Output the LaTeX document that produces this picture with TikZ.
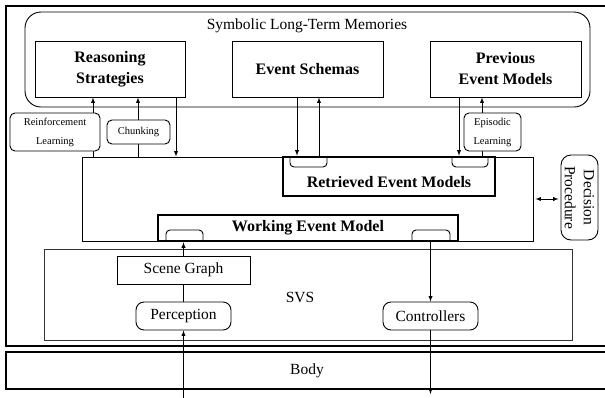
\documentclass[tikz,border=0pt]{standalone}
\usepackage{fontspec}
\setmainfont{Liberation Serif}
\usetikzlibrary{arrows}

\begin{document}
\begin{tikzpicture}[x=1pt,y=-1pt,>=latex,line width=0.9pt,
	txt/.style={font=\fontsize{15.5}{19}\selectfont},
	bold/.style={font=\fontsize{16}{21}\selectfont\bfseries,align=center},
	small/.style={font=\fontsize{10.5}{19}\selectfont,align=center},
	box/.style={draw,inner sep=0pt},
	rbox/.style={draw,fill=white,rounded corners=5pt,inner sep=0pt},
	heavy/.style={draw,line width=2.6pt,inner sep=0pt}]
	\useasboundingbox (0,0) rectangle (605,397);
	\clip (0,0) rectangle (605,397);

	% agent frame and body (open to the right)
	\draw[line width=1.8pt] (640,6) -- (6,6) -- (6,346) -- (640,346);
	\draw[line width=1.3pt] (640,352) -- (6,352) -- (6,389) -- (640,389);
	\node[txt] (bodylbl) at (307,371) {Body};

	% long-term memories
	\node[box,rounded corners=16pt,minimum width=565,minimum height=95] (ltm) at (307.5,59.5) {};
	\node[txt] (ltmlbl) at (307,26) {Symbolic Long-Term Memories};
	\node[box,bold,minimum width=150,minimum height=56] (rs) at (110,69) {Reasoning\\Strategies};
	\node[box,bold,minimum width=151,minimum height=56] (es) at (307.5,69) {Event Schemas};
	\node[box,bold,minimum width=151,minimum height=56] (pem) at (505.5,69) {Previous\\Event Models};

	% working memory
	\node[box,minimum width=451,minimum height=84] (wm) at (307.5,199) {};
	\node[heavy,minimum width=212,minimum height=39] (rem) at (389,176.5) {};
	\node[bold] (remlbl) at (389,182) {Retrieved Event Models};
	\node[heavy,minimum width=300,minimum height=26] (wem) at (308,228) {};
	\node[bold] (wemlbl) at (308,228) {Working Event Model};
	\draw[rounded corners=4pt] (290,157) -- (290,167) -- (327,167) -- (327,157);
	\draw[rounded corners=4pt] (452,157) -- (452,167) -- (488,167) -- (488,157);
	\draw[rounded corners=4pt] (166,241) -- (166,230) -- (203,230) -- (203,241);
	\draw[rounded corners=4pt] (412,241) -- (412,230) -- (450,230) -- (450,241);

	% decision procedure
	\node[rbox,txt,rounded corners=10pt,align=center,rotate=-90,minimum width=85,minimum height=37] (dp) at (579.5,197.5) {Decision\\Procedure};
	\draw[<->] ([xshift=2pt]wm.east) -- ([xshift=-2pt]wm.east -| dp.south);

	% learning and retrieval
	\foreach \x in {93,138}
	\draw[->] (wm.north -| \x,0) -- (rs.south -| \x,0);
	\draw[->] (rs.south -| 176,0) -- (wm.north -| 176,0);
	\draw[->] (es.south -| 297,0) -- (rem.north -| 297,0);
	\draw[->] (rem.north -| 319,0) -- (es.south -| 319,0);
	\draw[->] (pem.south -| 459,0) -- (rem.north -| 459,0);
	\draw[->] (rem.north -| 482,0) -- (pem.south -| 482,0);
	\node[rbox,small,minimum width=90,minimum height=38] (rl) at (55,132) {Reinforcement\\Learning};
	\node[rbox,small,minimum width=63,minimum height=24] (chunk) at (138.5,132) {Chunking};
	\node[rbox,small,minimum width=57,minimum height=38] (epi) at (492.5,132) {Episodic\\Learning};

	% SVS
	\node[box,draw=black!80,minimum width=528,minimum height=91] (svs) at (308,294.5) {};
	\node[txt] (svslbl) at (300,297) {SVS};
	\node[box,txt,minimum width=133,minimum height=28] (sg) at (183.5,270) {Scene Graph};
	\node[rbox,txt,rounded corners=8pt,minimum width=95,minimum height=28] (perc) at (183.5,316) {Perception};
	\node[rbox,txt,rounded corners=8pt,minimum width=95,minimum height=28] (ctrl) at (430.5,316) {Controllers};
	\coordinate (percin) at (183.5,400);
	\coordinate (ctrlout) at (430.5,394);

	\draw[->] (percin) -- (perc.south);
	\draw (perc.north) -- (sg.south);
	\draw[->] (sg.north) -- (wem.south -| sg.north);
	\draw[->] (wem.south -| ctrl.north) -- (ctrl.north);
	\draw[->] (ctrl.south) -- (ctrlout);
\end{tikzpicture}
\end{document}
